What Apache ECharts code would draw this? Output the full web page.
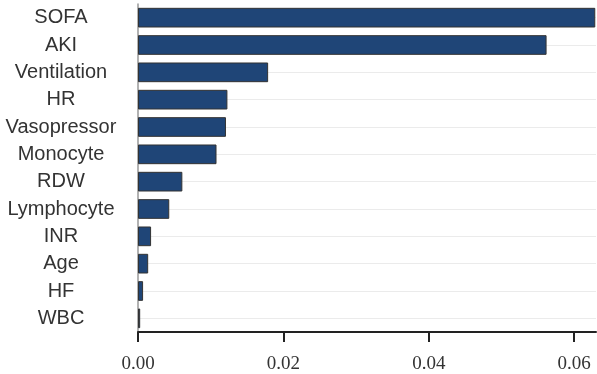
<!DOCTYPE html>
<html>
<head>
<meta charset="utf-8">
<script src="https://cdn.jsdelivr.net/npm/echarts@6/dist/echarts.min.js"></script>
<style>
  html, body { margin: 0; padding: 0; background: #fff; }
  #chart { width: 597px; height: 374px; }
</style>
</head>
<body>
<div id="chart"></div>
<script>
// feature importance, top to bottom
const features = ['SOFA', 'AKI', 'Ventilation', 'HR', 'Vasopressor', 'Monocyte',
  'RDW', 'Lymphocyte', 'INR', 'Age', 'HF', 'WBC'];
const importance = [0.0629, 0.0562, 0.0179, 0.0123, 0.0121, 0.0108,
  0.0061, 0.0043, 0.0018, 0.0014, 0.0007, 0.0003];
const xTicks = [0, 0.02, 0.04, 0.06];

const chart = echarts.init(document.getElementById('chart'));

const option = {
  animation: false,
  grid: { left: 138, right: 1, top: 4, bottom: 39 },
  xAxis: {
    type: 'value',
    min: 0,
    max: 0.063,
    axisLine: { show: true, lineStyle: { color: '#222', width: 2 } },
    axisTick: { show: true, length: 10, customValues: xTicks, lineStyle: { color: '#222', width: 2 } },
    axisLabel: {
      customValues: xTicks,
      margin: 23,
      fontFamily: 'Liberation Serif',
      fontSize: 19,
      color: '#333',
      formatter: v => v.toFixed(2)
    },
    splitLine: { show: false }
  },
  yAxis: {
    type: 'category',
    data: features,
    inverse: true,
    axisLine: { show: true, lineStyle: { color: '#999', width: 1.5 } },
    axisTick: { show: false },
    axisLabel: {
      align: 'center',
      margin: 77,
      fontFamily: 'Liberation Sans',
      fontSize: 20,
      color: '#333'
    },
    splitLine: { show: false }
  },
  series: [
    {
      // light grid lines through the middle of each row, behind the bars
      type: 'line',
      data: [],
      z: 1,
      silent: true,
      markLine: {
        z: 1,
        silent: true,
        symbol: 'none',
        label: { show: false },
        lineStyle: { color: '#ebebeb', type: 'solid', width: 1 },
        data: features.map(f => ({ yAxis: f }))
      }
    },
    {
      type: 'bar',
      data: importance,
      z: 3,
      barCategoryGap: '28%',
      itemStyle: { color: '#1f4577', borderColor: '#333', borderWidth: 1 }
    }
  ]
};

chart.setOption(option);
</script>
</body>
</html>
